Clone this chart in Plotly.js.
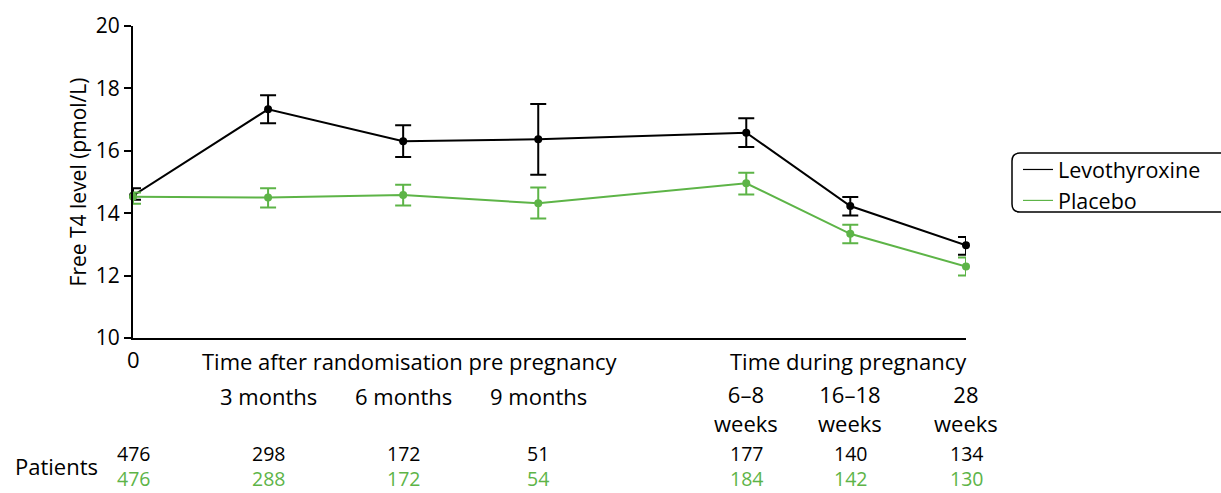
<!DOCTYPE html>
<html>
<head>
<meta charset="utf-8">
<script src="https://cdn.plot.ly/plotly-3.0.1.min.js"></script>
<style>html,body{margin:0;padding:0;background:#fff;}#chart{width:1221px;height:493px;}</style>
</head>
<body>
<div id="chart"></div>
<script>
// Time points (category labels) and their horizontal positions on the time axis
const timeLabels = ["0", "3 months", "6 months", "9 months", "6–8<br>weeks", "16–18<br>weeks", "28<br>weeks"];
const xPos = [0, 3, 6, 9, 13.62, 15.93, 18.5];

// Free T4 (pmol/L) means and error-bar limits
const levoMean  = [14.56, 17.33, 16.31, 16.37, 16.58, 14.23, 12.97];
const levoUpper = [14.80, 17.78, 16.82, 17.50, 17.04, 14.52, 13.24];
const levoLower = [14.43, 16.88, 15.80, 15.23, 16.12, 13.93, 12.67];

const placMean  = [14.53, 14.50, 14.58, 14.32, 14.96, 13.34, 12.29];
const placUpper = [14.66, 14.80, 14.91, 14.82, 15.30, 13.63, 12.58];
const placLower = [14.30, 14.18, 14.25, 13.83, 14.60, 13.04, 12.00];

// Patients at each time point
const levoPatients = [476, 298, 172, 51, 177, 140, 134];
const placPatients = [476, 288, 172, 54, 184, 142, 130];

const BLACK = "#000000";
const GREEN = "#5db447";
const FONT = "Open Sans, Noto Sans, sans-serif";
const FS = 22;

function trace(name, mean, up, lo, color) {
  return {
    type: "scatter", mode: "lines+markers", name: name, showlegend: false,
    x: xPos, y: mean,
    line: {color: color, width: 2},
    marker: {color: color, size: 8},
    error_y: {type: "data", symmetric: false,
      array: mean.map((m, i) => up[i] - m),
      arrayminus: mean.map((m, i) => m - lo[i]),
      color: color, thickness: 2, width: 8},
    cliponaxis: false
  };
}
function legendEntry(name, color) {
  return {type: "scatter", mode: "lines", name: name, x: [null], y: [null],
    line: {color: color, width: 1.2}, showlegend: true, hoverinfo: "skip"};
}

const data = [
  trace("Levothyroxine", levoMean, levoUpper, levoLower, BLACK),
  trace("Placebo", placMean, placUpper, placLower, GREEN),
  legendEntry("Levothyroxine", BLACK),
  legendEntry("Placebo", GREEN)
];

function py(p) { return (338 - p) / 312; }

const annotations = [];
function ann(text, x, yp, size) {
  annotations.push({text: text, x: x, y: py(yp), xref: "x", yref: "paper",
    xanchor: "center", yanchor: "middle", showarrow: false,
    font: {family: FONT, size: size || FS, color: BLACK}});
}

// Time labels
ann(timeLabels[0], xPos[0], 359);
for (let i = 1; i < 4; i++) ann(timeLabels[i], xPos[i], 396);
for (let i = 4; i < 7; i++) ann(timeLabels[i], xPos[i], 408);
ann("Time after randomisation pre pregnancy", 6.16, 361);
ann("Time during pregnancy", 15.9, 361);

// Patient counts (levothyroxine in black, placebo in green)
for (let i = 0; i < xPos.length; i++) {
  ann(`<span style="color:${BLACK}">${levoPatients[i]}</span><br>` +
      `<span style="color:${GREEN}">${placPatients[i]}</span>`, xPos[i], 466, 19.5);
}
annotations.push({text: "Patients", x: (13 - 133) / 833, y: py(466), xref: "paper", yref: "paper",
  xanchor: "left", yanchor: "middle", showarrow: false,
  font: {family: FONT, size: FS, color: BLACK}});

// Rounded legend box
const x0 = (1012 - 133) / 833, x1 = (1235 - 133) / 833;
const yt = py(153), yb = py(212);
const rx = 8 / 833, ry = 8 / 312;
const boxPath = `M ${x0 + rx},${yt} L ${x1},${yt} L ${x1},${yb} L ${x0 + rx},${yb} ` +
  `Q ${x0},${yb} ${x0},${yb + ry} L ${x0},${yt - ry} Q ${x0},${yt} ${x0 + rx},${yt} Z`;

const layout = {
  width: 1221, height: 493,
  margin: {l: 133, r: 255, t: 26, b: 155},
  paper_bgcolor: "#fff", plot_bgcolor: "#fff",
  font: {family: FONT, size: FS, color: BLACK},
  showlegend: true,
  legend: {x: (1018 - 133) / 833, y: py(149), xanchor: "left", yanchor: "top",
    bgcolor: "rgba(0,0,0,0)", borderwidth: 0,
    font: {family: FONT, size: 21.5, color: BLACK},
    tracegroupgap: 0},
  xaxis: {range: [0, 18.5], showgrid: false, zeroline: false,
    showline: true, linecolor: BLACK, linewidth: 2,
    showticklabels: false, ticks: "", fixedrange: true},
  yaxis: {range: [10, 20], showgrid: false, zeroline: false,
    showline: true, linecolor: BLACK, linewidth: 2,
    ticks: "outside", ticklen: 7, tickwidth: 2, tickcolor: BLACK,
    tickvals: [10, 12, 14, 16, 18, 20], ticktext: ["10", "12", "14", "16", "18", "20"],
    tickfont: {family: FONT, size: 21, color: BLACK},
    title: {text: "Free T4 level (pmol/L)", font: {family: FONT, size: 21, color: BLACK}, standoff: 3},
    fixedrange: true},
  shapes: [{type: "path", xref: "paper", yref: "paper", path: boxPath,
    line: {color: BLACK, width: 1.5}, fillcolor: "rgba(0,0,0,0)", layer: "below"}],
  annotations: annotations
};

Plotly.newPlot("chart", data, layout, {displayModeBar: false, staticPlot: true});
</script>
</body>
</html>
